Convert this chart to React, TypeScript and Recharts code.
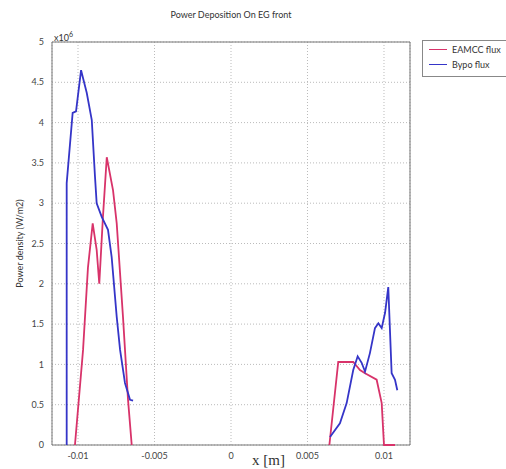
import React from 'react'
import {
    LineChart,
    Line,
    XAxis,
    YAxis,
    CartesianGrid,
    ReferenceArea,
    Label,
} from 'recharts'

// x positions (m) and power density (x10^6 W/m2); null splits the two lobes
const eamccX = [-0.0102, -0.00967, -0.00935, -0.00904, -0.00878, -0.00861, -0.00837, -0.00812, -0.00771, -0.00747, -0.00706, -0.00673, -0.00649, 0, 0.00643, 0.00701, 0.00799, 0.00843, 0.00876, 0.00952, 0.00985, 0.01, 0.01072]
const eamccY = [0, 1.18, 2.2, 2.75, 2.42, 2.0, 2.83, 3.57, 3.16, 2.75, 1.59, 0.56, 0, null, 0, 1.03, 1.03, 0.93, 0.89, 0.81, 0.52, 0, 0]

const bypoX = [-0.01074, -0.01074, -0.01035, -0.01013, -0.0098, -0.00943, -0.0091, -0.00889, -0.00878, -0.00845, -0.00804, -0.0078, -0.00747, -0.00725, -0.00693, -0.0066, -0.0064, 0, 0.00647, 0.00712, 0.00756, 0.00799, 0.00828, 0.00854, 0.00876, 0.00908, 0.00941, 0.00963, 0.00985, 0.01007, 0.01028, 0.0105, 0.01072, 0.01087]
const bypoY = [0, 3.25, 4.12, 4.14, 4.65, 4.37, 4.03, 3.33, 3.0, 2.83, 2.67, 2.33, 1.59, 1.18, 0.77, 0.56, 0.55, null, 0.1, 0.27, 0.52, 0.93, 1.1, 1.02, 0.91, 1.14, 1.45, 1.51, 1.45, 1.64, 1.96, 0.89, 0.81, 0.68]

const xTicks = [-0.01, -0.005, 0, 0.005, 0.01]
const yTicks = [0, 0.5, 1, 1.5, 2, 2.5, 3, 3.5, 4, 4.5, 5]

const seriesNames = ['EAMCC flux', 'Bypo flux']
const seriesColors = ['#d8336a', '#3535c8']

const eamcc = eamccX.map((x, i) => ({ x, y: eamccY[i] }))
const bypo = bypoX.map((x, i) => ({ x, y: bypoY[i] }))

const font = 'Lato, "Open Sans", sans-serif'

export default function App() {
    return (
        <div style={{ position: 'absolute', left: 0, top: 0, width: 506, height: 469, background: '#fff', fontFamily: font, overflow: 'hidden' }}>
            <div style={{ position: 'absolute', left: 0, width: 462, top: 9, textAlign: 'center', fontSize: 9, color: '#333' }}>
                Power Deposition On EG front
            </div>
            <div style={{ position: 'absolute', left: 54, top: 30, fontSize: 9, color: '#333' }}>
                x10<sup style={{ fontSize: 7 }}>6</sup>
            </div>
            <LineChart
                width={506}
                height={469}
                margin={{ top: 42, right: 96, bottom: 4, left: 12 }}
            >
                <CartesianGrid stroke="#bbb" strokeDasharray="1 2" />
                <XAxis
                    type="number"
                    dataKey="x"
                    domain={[-0.0117, 0.0117]}
                    ticks={xTicks}
                    allowDataOverflow
                    tickLine={false}
                    axisLine={false}
                    height={20}
                    tick={{ fontSize: 9, fill: '#444', fontFamily: font }}
                    tickFormatter={(v: number) => String(v)}
                />
                <YAxis
                    type="number"
                    domain={[0, 5]}
                    ticks={yTicks}
                    tickLine={false}
                    axisLine={false}
                    width={40}
                    tick={{ fontSize: 9, fill: '#444', fontFamily: font }}
                >
                    <Label
                        value="Power density (W/m2)"
                        angle={-90}
                        position="insideLeft"
                        offset={8}
                        style={{ textAnchor: 'middle', fontSize: 9, fill: '#333', fontFamily: font }}
                    />
                </YAxis>
                <Line
                    data={eamcc}
                    dataKey="y"
                    name={seriesNames[0]}
                    stroke={seriesColors[0]}
                    strokeWidth={1.8}
                    dot={false}
                    type="linear"
                    isAnimationActive={false}
                />
                <Line
                    data={bypo}
                    dataKey="y"
                    name={seriesNames[1]}
                    stroke={seriesColors[1]}
                    strokeWidth={1.8}
                    dot={false}
                    type="linear"
                    isAnimationActive={false}
                />
                <ReferenceArea x1={-0.0117} x2={0.0117} y1={0} y2={5} fill="none" stroke="#777" strokeWidth={1} ifOverflow="visible" />
            </LineChart>
            <div style={{ position: 'absolute', left: 252, top: 452, fontFamily: '"Liberation Serif", serif', fontSize: 15, color: '#333' }}>
                x [m]
            </div>
            <div style={{ position: 'absolute', left: 422, top: 40, width: 100, height: 37, border: '1px solid #888', boxSizing: 'border-box' }}>
                {seriesNames.map((n, i) => (
                    <div key={n} style={{ position: 'absolute', left: 6, top: 3 + i * 15, display: 'flex', alignItems: 'center', fontSize: 9, color: '#333', whiteSpace: 'nowrap' }}>
                        <span style={{ display: 'inline-block', width: 18, height: 0, borderTop: `1px solid ${seriesColors[i]}`, marginRight: 5 }} />
                        {n}
                    </div>
                ))}
            </div>
        </div>
    )
}
